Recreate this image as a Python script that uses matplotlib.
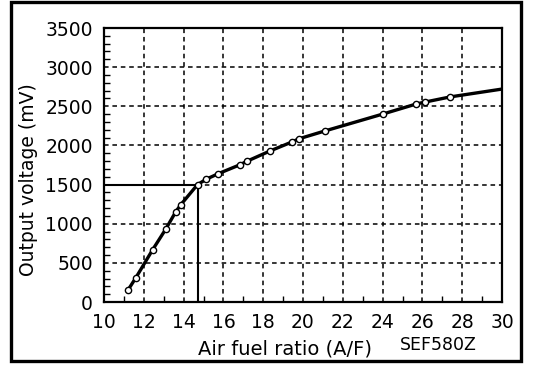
import matplotlib
matplotlib.use("Agg")
import matplotlib.pyplot as plt
from matplotlib.patches import Rectangle
from matplotlib.ticker import MultipleLocator

plt.rcParams['font.family'] = ['DejaVu Sans']

# Data
air_fuel = [11.2, 11.6, 12.45, 13.1, 13.6, 13.85, 14.7, 15.15, 15.75, 16.85,
            17.2, 18.35, 19.45, 19.8, 21.1, 24.0, 25.7, 26.15, 27.4]
output_mv = [150, 310, 670, 930, 1150, 1240, 1500, 1570, 1640, 1755,
             1800, 1930, 2045, 2085, 2185, 2400, 2530, 2555, 2620]
curve_end_af = [30.0]
curve_end_mv = [2720]
stoich_af = 14.7
stoich_mv = 1500
x_ticks = [10, 12, 14, 16, 18, 20, 22, 24, 26, 28, 30]
y_ticks = [0, 500, 1000, 1500, 2000, 2500, 3000, 3500]

fig = plt.figure(figsize=(5.44, 3.70), dpi=100)
ax = fig.add_axes([104/544, 68/370, 398/544, 274/370])

for xv in x_ticks[1:-1]:
    ax.axvline(xv, color='black', lw=1.1, ls=(0, (3, 2.5)), zorder=1)
for yv in y_ticks[1:-1]:
    ax.axhline(yv, color='black', lw=1.1, ls=(0, (3, 2.5)), zorder=1)

ax.plot([x_ticks[0], stoich_af], [stoich_mv, stoich_mv], color='black', lw=1.5, zorder=2)
ax.plot([stoich_af, stoich_af], [y_ticks[0], stoich_mv], color='black', lw=1.5, zorder=2)

ax.plot(air_fuel + curve_end_af, output_mv + curve_end_mv, color='black', lw=2.4, zorder=3)
ax.plot(air_fuel, output_mv, ls='none', marker='o', ms=4.5, mfc='white', mec='black', mew=1.0, zorder=4)

ax.set_xlim(x_ticks[0], x_ticks[-1])
ax.set_ylim(y_ticks[0], y_ticks[-1])
ax.set_xticks(x_ticks)
ax.set_yticks(y_ticks)
ax.xaxis.set_minor_locator(MultipleLocator(1))
ax.yaxis.set_minor_locator(MultipleLocator(100))
ax.tick_params(which='both', direction='in', top=False, right=False, labelsize=13.5)
ax.tick_params(axis='x', which='major', length=0, pad=8)
ax.tick_params(axis='y', which='major', length=0, pad=8)
ax.tick_params(which='minor', length=4, width=1)
for s in ax.spines.values():
    s.set_linewidth(1.6)

fig.text(29/544, 1 - 180/370, 'Output voltage (mV)', fontsize=13.5, rotation=90,
         ha='center', va='center')
fig.text(285/544, 1 - 349/370, 'Air fuel ratio (A/F)', fontsize=14, ha='center', va='center')
fig.text(438/544, 1 - 345/370, 'SEF580Z', fontsize=12.5, ha='center', va='center')

fig.patches.append(Rectangle((11/544, 9/370), 510/544, 359/370, transform=fig.transFigure,
                             fill=False, lw=2.4, ec='black'))

fig.savefig('out.png', dpi=100)
